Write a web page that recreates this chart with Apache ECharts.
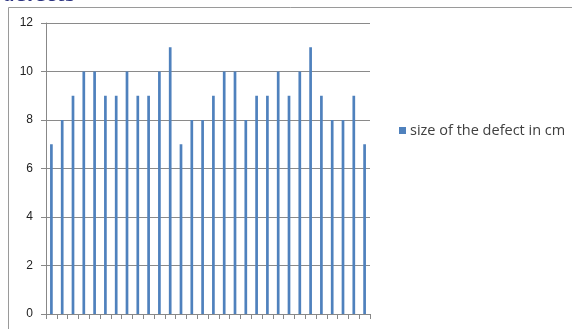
<!DOCTYPE html>
<html>
<head>
<meta charset="utf-8">
<script src="https://cdn.jsdelivr.net/npm/echarts@6/dist/echarts.min.js"></script>
<style>
  html, body { margin: 0; padding: 0; background: #fff; }
  #chart { width: 572px; height: 329px; }
</style>
</head>
<body>
<div id="chart"></div>
<script>
// Defect measurements, one per sample
const samples = Array.from({ length: 30 }, (_, i) => String(i + 1));
const defectSize = [7, 8, 9, 10, 10, 9, 9, 10, 9, 9, 10, 11, 7, 8, 8,
                    9, 10, 10, 8, 9, 9, 10, 9, 10, 11, 9, 8, 8, 9, 7];
const seriesName = 'size of the defect in cm';
const yTicks = { min: 0, max: 12, interval: 2 };

const chart = echarts.init(document.getElementById('chart'), null, { renderer: 'canvas' });
chart.setOption({
  animation: false,
  textStyle: { fontFamily: '"Open Sans", Lato, sans-serif' },
  title: {
    text: 'defects',
    left: -3,
    top: -20,
    textStyle: { fontSize: 20, fontWeight: 'bold', color: '#2B3380', fontFamily: '"Open Sans", sans-serif' }
  },
  graphic: [{
    type: 'polyline',
    shape: { points: [[8.5, 329], [8.5, 7.5], [572, 7.5]] },
    style: { stroke: '#9a9a9a', lineWidth: 1, fill: null }
  }],
  legend: {
    data: [seriesName],
    left: 394,
    top: 118,
    icon: 'rect',
    itemWidth: 7,
    itemHeight: 7,
    itemGap: 4,
    textStyle: { fontSize: 14.5, color: '#404040', padding: [0, 0, 0, -1] }
  },
  grid: { left: 46, right: 202, top: 23, bottom: 15, containLabel: false },
  xAxis: {
    type: 'category',
    data: samples,
    boundaryGap: true,
    axisLine: { lineStyle: { color: '#888', width: 1 } },
    axisTick: { show: true, interval: 0, length: 5, lineStyle: { color: '#888' } },
    axisLabel: { show: false, interval: 0 },
    splitLine: { show: false }
  },
  yAxis: {
    type: 'value',
    min: yTicks.min,
    max: yTicks.max,
    interval: yTicks.interval,
    axisLine: { show: true, lineStyle: { color: '#888', width: 1 } },
    axisTick: { show: true, length: 5, lineStyle: { color: '#888' } },
    axisLabel: { margin: 13, fontSize: 12, color: '#222', fontFamily: '"Liberation Sans", Arial, sans-serif' },
    splitLine: { show: true, lineStyle: { color: '#8a8a8a', width: 1 } }
  },
  series: [{
    name: seriesName,
    type: 'bar',
    data: defectSize,
    barWidth: '25%',
    itemStyle: { color: '#4F81BD' }
  }]
});
</script>
</body>
</html>
